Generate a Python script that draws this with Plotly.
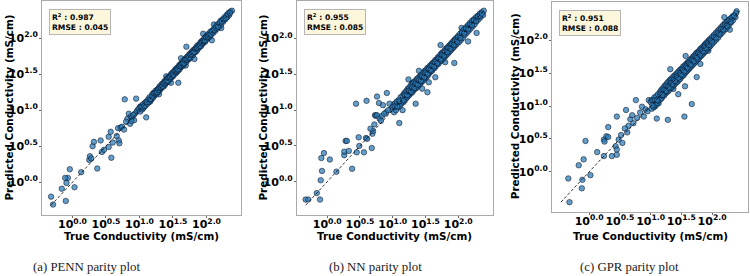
import plotly.graph_objects as go

# ---------------- data (log10 of conductivity, mS/cm) ----------------
# (true, predicted) pairs
penn_low = [(-0.32,-0.20),(-0.29,-0.31),(-0.16,-0.09),(-0.10,-0.26),(-0.09,-0.01),(-0.07,0.06),(-0.11,0.06),
            (-0.04,0.18),(0.03,-0.07),(0.13,0.14),(0.25,0.31),(0.26,0.36),(0.28,0.33),(0.30,0.50),(0.32,0.56),
            (0.37,0.19),(0.42,0.58),(0.44,0.42),(0.47,0.45),(0.54,0.49),(0.54,0.63),(0.57,0.70),(0.58,0.34),
            (0.60,0.55),(0.66,0.64),(0.68,0.75),(0.69,0.58),(0.70,0.54),(0.72,0.76),(0.74,0.77),(0.77,0.73),
            (0.78,1.15),(0.82,0.88),(0.84,0.95),(0.86,0.81),(0.87,0.91),(0.89,0.90),(0.92,0.86),(0.95,1.16),
            (0.93,0.95),(0.97,1.00),(1.01,1.05),(1.10,0.90),(0.80,0.84),(0.88,0.85),(0.91,0.93),(0.96,0.98),
            (1.16,1.12),(1.05,1.03),(1.58,1.38),(1.70,1.88),(2.08,1.97),(1.69,1.62),(1.47,1.38),(1.40,1.47),
            (1.82,1.71),(1.95,2.06),(2.22,2.14),(1.29,1.22),(2.11,2.19),(1.62,1.72)]
penn_band = [(0.99,1.02),(1.01,0.98),(1.02,1.05),(1.04,1.01),(1.05,1.08),(1.06,1.03),(1.08,1.10),(1.09,1.06),
             (1.10,1.12),(1.12,1.09),(1.13,1.15),(1.14,1.11),(1.15,1.18),(1.17,1.14),(1.18,1.16),(1.19,1.22),
             (1.20,1.17),(1.21,1.24),(1.22,1.20),(1.23,1.21),(1.24,1.27),(1.25,1.22),(1.26,1.28),(1.27,1.25),
             (1.28,1.30),(1.29,1.26),(1.30,1.33),(1.31,1.29),(1.32,1.30),(1.33,1.36),(1.34,1.32),(1.35,1.37),
             (1.36,1.33),(1.37,1.40),(1.38,1.35),(1.39,1.41),(1.40,1.38),(1.41,1.44),(1.42,1.39),(1.43,1.45),
             (1.44,1.42),(1.45,1.47),(1.46,1.43),(1.47,1.50),(1.48,1.46),(1.49,1.52),(1.50,1.47),(1.51,1.53),
             (1.52,1.50),(1.53,1.56),(1.54,1.51),(1.55,1.58),(1.56,1.53),(1.57,1.59),(1.58,1.55),(1.59,1.62),
             (1.60,1.57),(1.61,1.64),(1.62,1.60),(1.63,1.65),(1.64,1.61),(1.65,1.68),(1.66,1.63),(1.67,1.70),
             (1.68,1.66),(1.69,1.72),(1.70,1.67),(1.71,1.74),(1.72,1.70),(1.73,1.76),(1.74,1.71),(1.75,1.78),
             (1.76,1.73),(1.77,1.80),(1.78,1.76),(1.79,1.82),(1.80,1.77),(1.81,1.84),(1.82,1.80),(1.83,1.85),
             (1.84,1.81),(1.85,1.88),(1.86,1.83),(1.87,1.90),(1.88,1.86),(1.89,1.91),(1.90,1.88),(1.91,1.94),
             (1.92,1.89),(1.93,1.96),(1.94,1.92),(1.95,1.97),(1.96,1.94),(1.97,2.00),(1.98,1.95),(1.99,2.02),
             (2.00,1.98),(2.01,2.04),(2.02,2.00),(2.03,2.06),(2.05,2.02),(2.06,2.09),(2.07,2.05),(2.09,2.11),
             (2.10,2.07),(2.12,2.14),(2.13,2.10),(2.15,2.18),(2.16,2.13),(2.18,2.20),(2.19,2.16),(2.21,2.24),
             (2.22,2.19),(2.24,2.26),(2.25,2.23),(2.27,2.29),(2.28,2.26),(2.30,2.32),(2.31,2.29),(2.33,2.35),
             (2.34,2.32),(2.36,2.37),(2.38,2.38)]
penn_core = [(1.03,1.04),(1.07,1.06),(1.11,1.11),(1.16,1.15),(1.19,1.19),(1.22,1.23),(1.24,1.24),(1.26,1.25),
             (1.28,1.28),(1.30,1.31),(1.32,1.32),(1.34,1.33),(1.36,1.37),(1.38,1.38),(1.40,1.40),(1.42,1.41),
             (1.44,1.45),(1.46,1.46),(1.48,1.48),(1.50,1.49),(1.52,1.53),(1.54,1.54),(1.56,1.56),(1.58,1.57),
             (1.60,1.61),(1.62,1.62),(1.64,1.64),(1.66,1.65),(1.68,1.69),(1.70,1.70),(1.72,1.72),(1.74,1.73),
             (1.76,1.77),(1.78,1.78),(1.80,1.80),(1.82,1.81),(1.84,1.85),(1.86,1.86),(1.88,1.88),(1.90,1.89),
             (1.92,1.93),(1.94,1.94),(1.96,1.96),(1.98,1.97),(2.00,2.01),(2.02,2.02),(2.04,2.04),(2.06,2.05),
             (2.08,2.09),(2.11,2.11),(2.14,2.14),(2.17,2.16),(2.20,2.21),(2.23,2.23),(2.26,2.26),(2.29,2.28),
             (2.32,2.33),(2.35,2.35)]

nn_low = [(-0.33,-0.25),(-0.29,-0.25),(-0.16,-0.16),(-0.11,-0.25),(-0.10,0.02),(-0.08,0.15),(-0.09,0.33),
          (-0.05,0.40),(0.04,0.31),(0.14,0.14),(0.26,0.37),(0.26,0.42),(0.28,0.57),(0.30,0.57),(0.33,0.43),
          (0.38,0.18),(0.44,1.09),(0.45,0.41),(0.48,0.62),(0.49,0.50),(0.56,0.41),(0.59,0.61),(0.60,1.13),
          (0.61,0.60),(0.68,0.47),(0.69,0.67),(0.70,0.71),(0.73,0.93),(0.74,0.92),(0.76,0.93),(0.79,1.10),
          (0.76,1.19),(0.80,0.88),(0.82,0.85),(0.84,0.92),(0.85,1.07),(0.91,1.24),(0.95,1.09),(0.98,1.02),
          (0.90,0.97),(1.03,1.09),(1.13,1.11),(1.10,0.82),(1.15,1.00),(1.23,1.25),(1.24,1.43),(1.35,1.09),
          (1.53,1.25),(1.65,1.46),(1.73,1.91),(1.94,1.66),(2.03,2.00),(2.15,1.96),(2.16,2.17),(2.28,2.08),
          (0.66,0.74),(0.72,0.80),(0.87,0.95),(0.93,1.00),(1.55,1.39),(1.45,1.30),(1.30,1.38),(1.80,1.67),
          (2.05,2.15),(1.40,1.55)]
nn_band = [(1.00,1.05),(1.02,0.97),(1.03,1.08),(1.05,1.00),(1.06,1.12),(1.08,1.04),(1.09,1.14),(1.11,1.06),
           (1.12,1.18),(1.13,1.09),(1.15,1.20),(1.16,1.11),(1.17,1.23),(1.18,1.13),(1.19,1.25),(1.20,1.16),
           (1.21,1.27),(1.22,1.18),(1.23,1.30),(1.24,1.20),(1.25,1.31),(1.26,1.22),(1.27,1.34),(1.28,1.24),
           (1.29,1.36),(1.30,1.25),(1.31,1.38),(1.32,1.28),(1.33,1.40),(1.34,1.30),(1.35,1.41),(1.36,1.31),
           (1.37,1.44),(1.38,1.33),(1.39,1.45),(1.40,1.35),(1.41,1.47),(1.42,1.37),(1.43,1.49),(1.44,1.39),
           (1.45,1.50),(1.46,1.41),(1.47,1.53),(1.48,1.43),(1.49,1.55),(1.50,1.45),(1.51,1.56),(1.52,1.47),
           (1.53,1.59),(1.54,1.49),(1.55,1.60),(1.56,1.52),(1.57,1.62),(1.58,1.54),(1.59,1.64),(1.60,1.55),
           (1.61,1.66),(1.62,1.58),(1.63,1.67),(1.64,1.59),(1.65,1.70),(1.66,1.62),(1.67,1.71),(1.68,1.64),
           (1.69,1.74),(1.70,1.65),(1.71,1.75),(1.72,1.68),(1.73,1.78),(1.74,1.69),(1.75,1.80),(1.76,1.71),
           (1.77,1.81),(1.78,1.73),(1.79,1.83),(1.80,1.75),(1.81,1.86),(1.82,1.77),(1.83,1.87),(1.84,1.79),
           (1.85,1.89),(1.86,1.81),(1.87,1.91),(1.88,1.83),(1.89,1.93),(1.90,1.85),(1.91,1.95),(1.92,1.87),
           (1.93,1.97),(1.94,1.89),(1.95,1.99),(1.96,1.91),(1.97,2.01),(1.98,1.93),(2.00,2.04),(2.01,1.95),
           (2.03,2.07),(2.04,1.98),(2.06,2.10),(2.07,2.01),(2.09,2.13),(2.10,2.05),(2.12,2.16),(2.13,2.08),
           (2.15,2.19),(2.16,2.11),(2.18,2.22),(2.19,2.14),(2.21,2.25),(2.22,2.17),(2.24,2.27),(2.25,2.20),
           (2.27,2.30),(2.28,2.24),(2.30,2.32),(2.31,2.27),(2.33,2.35),(2.34,2.30),(2.36,2.37),(2.38,2.33),
           (2.39,2.39)]
nn_core = [(1.03,1.05),(1.07,1.05),(1.11,1.13),(1.16,1.14),(1.19,1.21),(1.22,1.21),(1.25,1.27),(1.28,1.26),
           (1.30,1.32),(1.33,1.31),(1.35,1.37),(1.38,1.36),(1.40,1.42),(1.43,1.41),(1.45,1.47),(1.48,1.46),
           (1.50,1.52),(1.53,1.51),(1.55,1.57),(1.58,1.56),(1.60,1.62),(1.63,1.61),(1.65,1.67),(1.68,1.66),
           (1.70,1.72),(1.73,1.71),(1.75,1.77),(1.78,1.76),(1.80,1.82),(1.83,1.81),(1.85,1.87),(1.88,1.86),
           (1.90,1.92),(1.93,1.91),(1.95,1.97),(1.98,1.96),(2.00,2.02),(2.03,2.01),(2.06,2.08),(2.09,2.07),
           (2.12,2.14),(2.15,2.13),(2.18,2.20),(2.21,2.19),(2.24,2.26),(2.27,2.25),(2.30,2.31),(2.33,2.32),
           (2.36,2.35)]

gpr_low = [(-0.32,-0.46),(-0.34,-0.10),(-0.17,0.10),(-0.12,-0.25),(-0.11,-0.12),(-0.09,0.19),(-0.06,0.47),
           (0.02,-0.05),(0.13,0.30),(0.24,0.49),(0.24,0.24),(0.28,0.54),(0.25,0.46),(0.31,0.53),(0.31,0.68),
           (0.37,0.24),(0.43,0.39),(0.45,0.34),(0.45,0.26),(0.45,0.84),(0.48,0.49),(0.54,0.44),(0.60,0.94),
           (0.64,0.70),(0.67,0.80),(0.70,0.86),(0.76,1.09),(0.72,0.74),(0.83,0.90),(0.89,0.84),(0.86,0.99),
           (0.97,1.09),(1.02,1.09),(1.10,0.81),(1.28,0.79),(1.08,1.00),(1.13,1.04),(1.32,1.56),(1.35,1.39),
           (1.37,1.26),(1.45,1.18),(1.55,0.84),(1.67,1.03),(1.56,1.30),(1.57,1.76),(1.72,1.74),(1.75,1.44),
           (1.81,1.64),(1.89,1.94),(1.94,1.84),(2.20,2.35),(2.29,2.16),(2.40,2.44),(0.52,0.56),(0.58,0.66),
           (0.62,0.60),(0.78,0.82),(0.92,0.95),(1.05,0.98),(0.95,0.92)]
gpr_band = [(1.00,1.06),(1.02,0.96),(1.03,1.09),(1.05,0.99),(1.06,1.13),(1.08,1.02),(1.09,1.15),(1.11,1.05),
            (1.12,1.18),(1.13,1.08),(1.15,1.21),(1.16,1.10),(1.17,1.24),(1.18,1.12),(1.19,1.26),(1.20,1.15),
            (1.21,1.28),(1.22,1.16),(1.23,1.31),(1.24,1.19),(1.25,1.32),(1.26,1.21),(1.27,1.35),(1.28,1.22),
            (1.29,1.37),(1.30,1.24),(1.31,1.39),(1.32,1.27),(1.33,1.41),(1.34,1.28),(1.35,1.42),(1.36,1.30),
            (1.37,1.45),(1.38,1.32),(1.39,1.46),(1.40,1.34),(1.41,1.48),(1.42,1.36),(1.43,1.50),(1.44,1.37),
            (1.45,1.52),(1.46,1.40),(1.47,1.54),(1.48,1.41),(1.49,1.56),(1.50,1.44),(1.51,1.57),(1.52,1.46),
            (1.53,1.60),(1.54,1.47),(1.55,1.61),(1.56,1.50),(1.57,1.63),(1.58,1.52),(1.59,1.65),(1.60,1.54),
            (1.61,1.67),(1.62,1.56),(1.63,1.68),(1.64,1.58),(1.65,1.71),(1.66,1.60),(1.67,1.72),(1.68,1.62),
            (1.69,1.75),(1.70,1.64),(1.71,1.76),(1.72,1.66),(1.73,1.79),(1.74,1.68),(1.75,1.81),(1.76,1.70),
            (1.77,1.82),(1.78,1.72),(1.79,1.84),(1.80,1.74),(1.81,1.87),(1.82,1.76),(1.83,1.88),(1.84,1.78),
            (1.85,1.90),(1.86,1.80),(1.87,1.92),(1.88,1.82),(1.89,1.94),(1.90,1.84),(1.91,1.96),(1.92,1.86),
            (1.93,1.98),(1.94,1.88),(1.95,2.00),(1.96,1.90),(1.97,2.02),(1.98,1.92),(2.00,2.05),(2.01,1.95),
            (2.03,2.08),(2.04,1.98),(2.06,2.11),(2.07,2.01),(2.09,2.14),(2.10,2.04),(2.12,2.17),(2.13,2.08),
            (2.15,2.20),(2.16,2.11),(2.18,2.23),(2.19,2.14),(2.21,2.26),(2.22,2.17),(2.24,2.28),(2.25,2.20),
            (2.27,2.31),(2.28,2.24),(2.30,2.33),(2.31,2.27),(2.33,2.36),(2.34,2.30),(2.36,2.38),(2.38,2.35),
            (2.39,2.41)]
gpr_core = [(1.03,1.01),(1.07,1.09),(1.11,1.09),(1.16,1.18),(1.19,1.17),(1.22,1.24),(1.25,1.23),(1.28,1.30),
            (1.30,1.28),(1.33,1.35),(1.35,1.33),(1.38,1.40),(1.40,1.38),(1.43,1.45),(1.45,1.43),(1.48,1.50),
            (1.50,1.48),(1.53,1.55),(1.55,1.53),(1.58,1.60),(1.60,1.58),(1.63,1.65),(1.65,1.63),(1.68,1.70),
            (1.70,1.68),(1.73,1.75),(1.75,1.73),(1.78,1.80),(1.80,1.78),(1.83,1.85),(1.85,1.83),(1.88,1.90),
            (1.90,1.88),(1.93,1.95),(1.95,1.93),(1.98,2.00),(2.00,1.98),(2.03,2.05),(2.06,2.04),(2.09,2.11),
            (2.12,2.10),(2.15,2.17),(2.18,2.16),(2.21,2.23),(2.24,2.22),(2.27,2.29),(2.30,2.28),(2.33,2.34),
            (2.36,2.37)]

r2_values = ["0.987", "0.955", "0.951"]
rmse_values = ["0.045", "0.085", "0.088"]
captions = ["(a) PENN parity plot", "(b) NN parity plot", "(c) GPR parity plot"]
tick_vals = [0.0, 0.5, 1.0, 1.5, 2.0]
tick_text = ["10<sup>0.0</sup>", "10<sup>0.5</sup>", "10<sup>1.0</sup>", "10<sup>1.5</sup>", "10<sup>2.0</sup>"]
x_title = "True Conductivity (mS/cm)"
y_title = "Predicted Conductivity (mS/cm)"

panels = [penn_low + penn_band + penn_core, nn_low + nn_band + nn_core, gpr_low + gpr_band + gpr_core]

# ---------------- layout (pixel geometry of 750x276 canvas) ----------------
W, H = 750, 276
plot_px = [  # left, right, top, bottom
    (42, 241, 1, 215),
    (296.7, 492.7, 1, 215),
    (552, 748, 1.7, 211.7),
]
ytitle_x = [8.5, 262.5, 514.5]
caption_x = [86.7, 375, 629]

fig = go.Figure()
annotations = []
axis_font = dict(family="DejaVu Sans", size=11, color="black", weight="bold")

for i, pairs in enumerate(panels):
    tr = [p[0] for p in pairs]
    pr = [p[1] for p in pairs]
    lo = min(min(tr), min(pr))
    hi = max(max(tr), max(pr))
    pad = 0.05 * (hi - lo)
    rng = [lo - pad, hi + pad]
    sx = "" if i == 0 else str(i + 1)
    xa, ya = "x" + sx, "y" + sx
    fig.add_trace(go.Scatter(
        x=tr, y=pr, mode="markers", xaxis=xa, yaxis=ya,
        marker=dict(size=5.5, color="rgba(40,120,180,0.72)",
                    line=dict(width=0.6, color="rgba(5,15,35,0.9)")),
        hoverinfo="skip"))
    fig.add_trace(go.Scatter(
        x=[lo, hi], y=[lo, hi], mode="lines", xaxis=xa, yaxis=ya,
        line=dict(color="black", width=0.8, dash="3px,2px"), hoverinfo="skip"))

    l, r, t, b = plot_px[i]
    common = dict(range=rng, tickvals=tick_vals, ticktext=tick_text, tickfont=axis_font,
                  showline=True, mirror=True, linecolor="#aaaaaa", linewidth=1,
                  ticks="outside", ticklen=2, tickcolor="#666666", showgrid=False,
                  zeroline=False, fixedrange=True, tickangle=0)
    fig.update_layout(**{
        "xaxis" + sx: dict(domain=[l / W, r / W], anchor=ya, ticklabelstandoff=-3, **common),
        "yaxis" + sx: dict(domain=[1 - b / H, 1 - t / H], anchor=xa, ticklabelstandoff=-1, **common),
    })
    cx = (l + r) / 2
    cy = (t + b) / 2
    # metrics box
    annotations.append(dict(
        xref=xa + " domain", yref=ya + " domain", x=0.035, y=0.962,
        xanchor="left", yanchor="top", align="left", showarrow=False,
        text=f"<b>R<sup>2</sup> : {r2_values[i]}</b><br><b>RMSE : {rmse_values[i]}</b>",
        font=dict(family="DejaVu Sans", size=7.6, color="black"),
        bgcolor="#fcf6dc", bordercolor="#b5b5b5", borderwidth=1, borderpad=2))
    # axis titles
    annotations.append(dict(
        xref="paper", yref="paper", x=cx / W, y=1 - 235.5 / H, xanchor="center", yanchor="middle",
        showarrow=False, text=f"<b>{x_title}</b>",
        font=dict(family="DejaVu Sans", size=10.4, color="black")))
    annotations.append(dict(
        xref="paper", yref="paper", x=ytitle_x[i] / W, y=1 - cy / H, xanchor="center", yanchor="middle",
        showarrow=False, textangle=-90, text=f"<b>{y_title}</b>",
        font=dict(family="DejaVu Sans", size=10.4, color="black")))
    # caption
    annotations.append(dict(
        xref="paper", yref="paper", x=caption_x[i] / W, y=1 - 266.7 / H, xanchor="center", yanchor="middle",
        showarrow=False, text=captions[i],
        font=dict(family="Liberation Serif", size=12.8, color="#222222")))

fig.update_layout(
    width=W, height=H, margin=dict(l=0, r=0, t=0, b=0),
    paper_bgcolor="white", plot_bgcolor="white", showlegend=False,
    annotations=annotations)

fig.write_html("out.html")
